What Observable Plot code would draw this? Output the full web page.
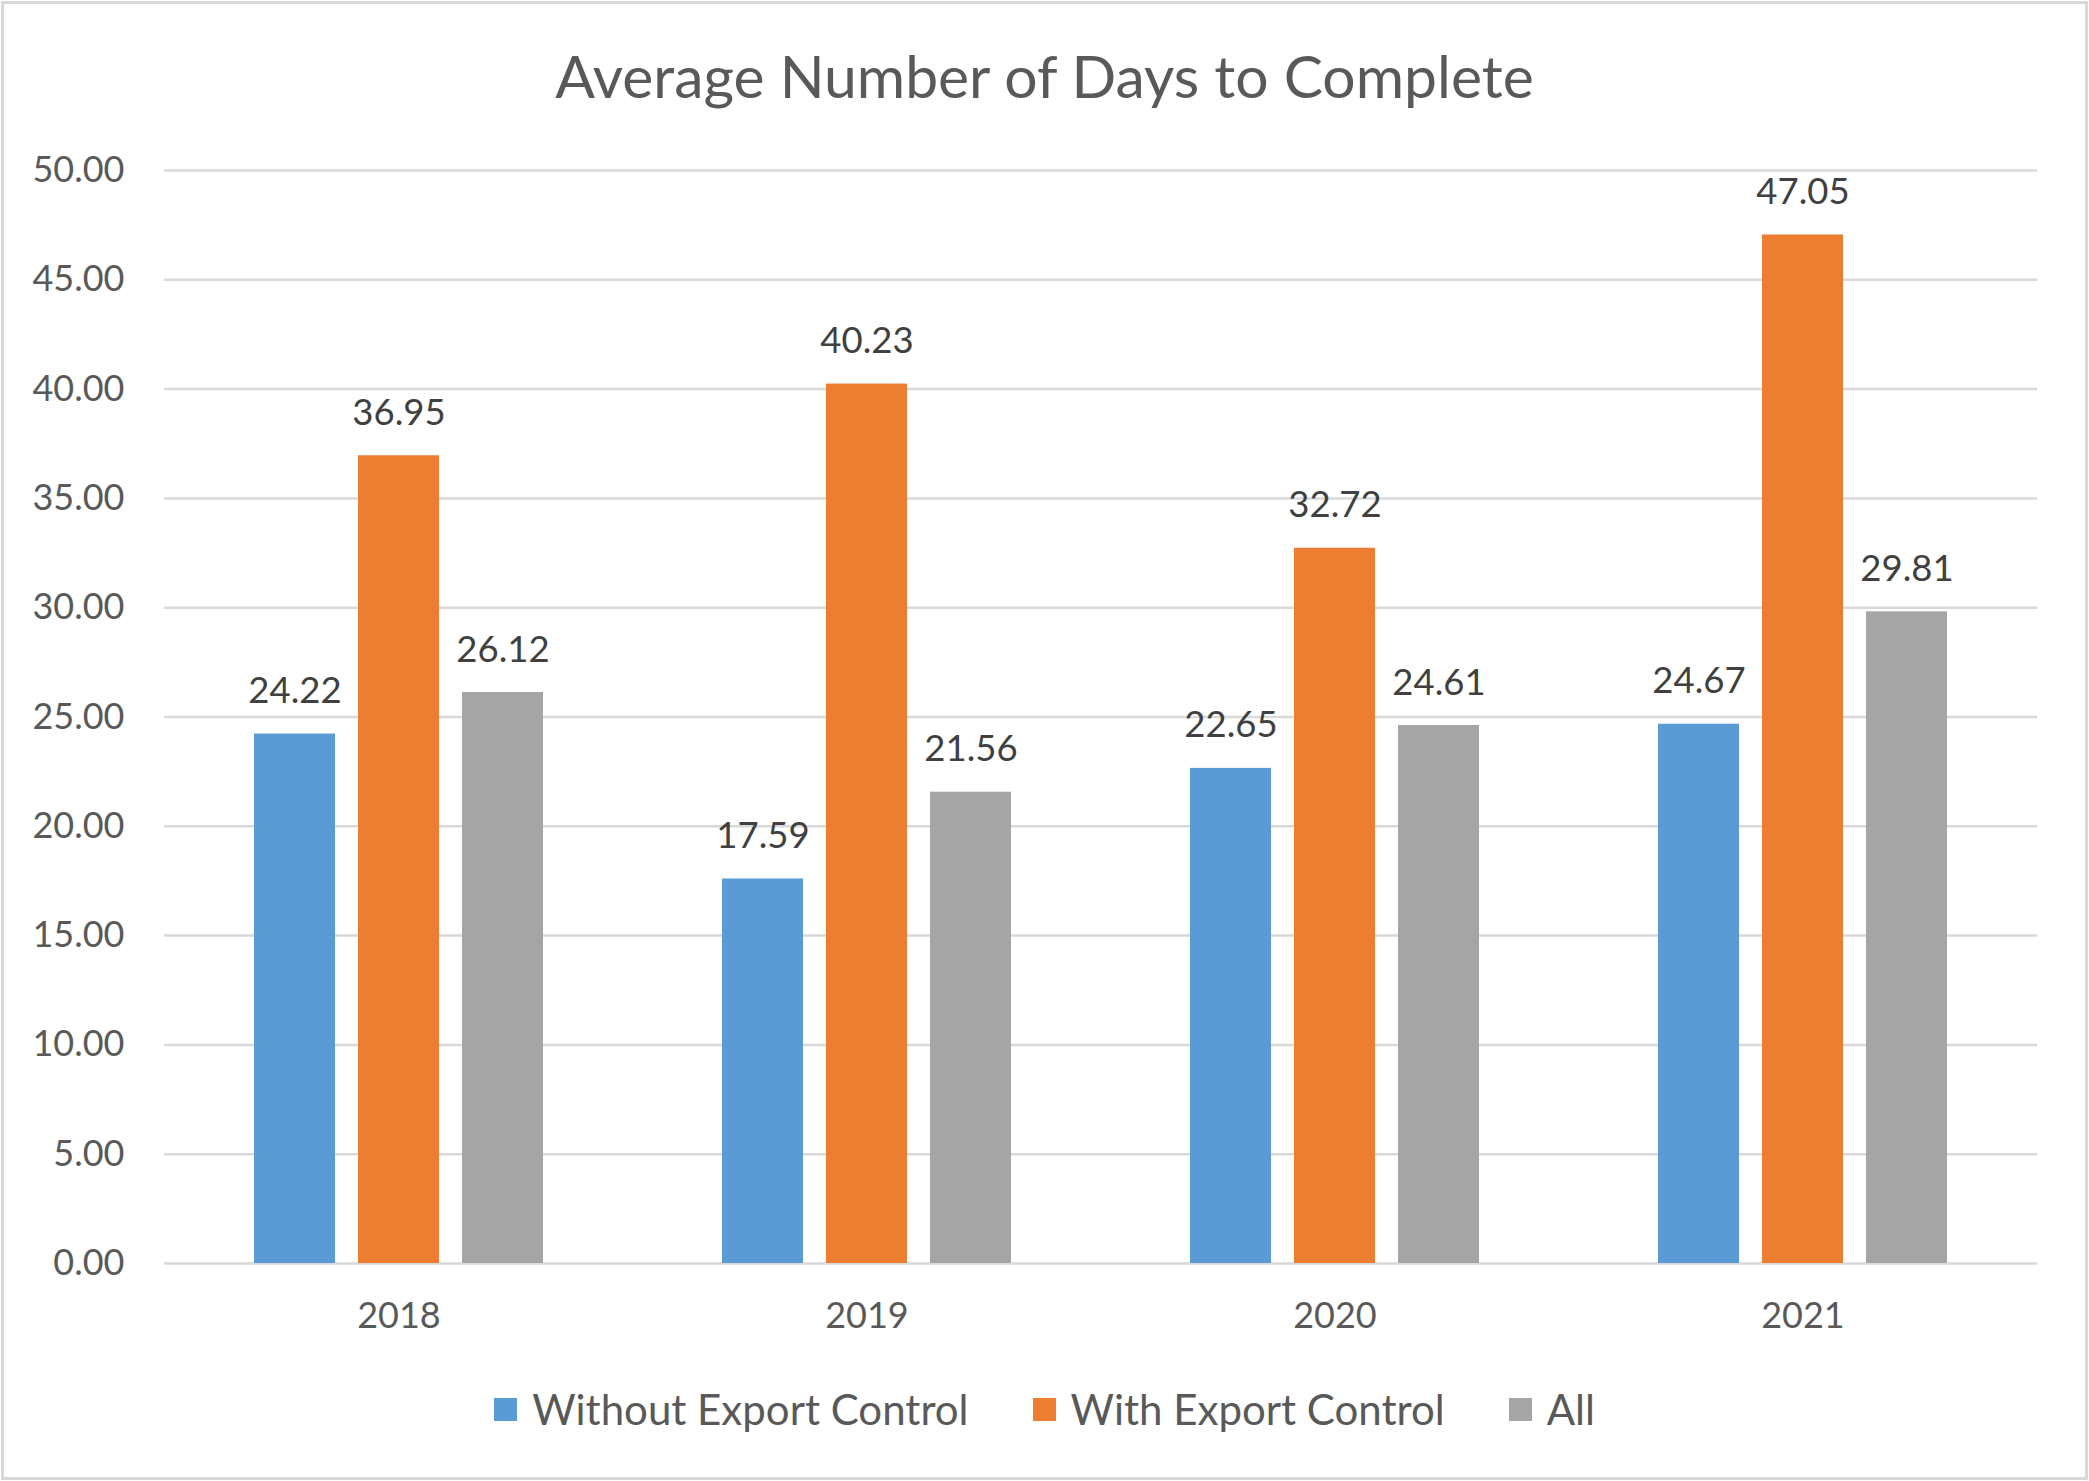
<!DOCTYPE html>
<html>
<head>
<meta charset="utf-8">
<script src="https://cdn.jsdelivr.net/npm/d3@7"></script>
<script src="https://cdn.jsdelivr.net/npm/@observablehq/plot@0.6"></script>
<style>
  html, body { margin: 0; padding: 0; background: #fff; }
  #wrap { position: relative; width: 2089px; height: 1481px; overflow: hidden; font-family: Lato, sans-serif; color: #595959; }
  #frame { position: absolute; left: 1px; top: 1px; width: 2087px; height: 1479px; box-sizing: border-box; border: 3px solid #D9D9D9; pointer-events: none; }
  #title { position: absolute; left: 0; top: 47px; width: 2089px; text-align: center; font-size: 58.8px; line-height: 1; white-space: nowrap; }
  #chart { position: absolute; left: 0; top: 0; }
  #legend { position: absolute; left: 0; width: 2089px; top: 1388px; display: flex; justify-content: center; align-items: center; font-size: 42px; line-height: 1; }
  .item { display: flex; align-items: center; margin: 0 32px; }
  .sw { width: 23px; height: 23px; margin-right: 15px; }
</style>
</head>
<body>
<div id="wrap">
  <div id="chart"></div>
  <div id="title">Average Number of Days to Complete</div>
  <div id="legend"></div>
  <div id="frame"></div>
</div>
<script>
const years = ["2018", "2019", "2020", "2021"];
const seriesNames = ["Without Export Control", "With Export Control", "All"];
const withoutExportControl = [24.22, 17.59, 22.65, 24.67];
const withExportControl = [36.95, 40.23, 32.72, 47.05];
const allValues = [26.12, 21.56, 24.61, 29.81];
const seriesColors = ["#5B9BD5", "#ED7D31", "#A5A5A5"];
const yTicks = [0, 5, 10, 15, 20, 25, 30, 35, 40, 45, 50];

const seriesValues = [withoutExportControl, withExportControl, allValues];
const rows = years.flatMap((year, i) =>
  seriesNames.map((series, j) => ({year, series, index: j, value: seriesValues[j][i]}))
);

// bar geometry within each year's band (pixels): bar width 81, gap 23
const barStep = 104, groupWidth = 289, barWidth = 81;

const seriesMarks = seriesNames.flatMap((name, j) => {
  const data = rows.filter(d => d.index === j);
  const left = j * barStep;
  const right = groupWidth - left - barWidth;
  return [
    Plot.barY(data, {x: "year", y: "value", fill: seriesColors[j], insetLeft: left, insetRight: right}),
    Plot.text(data, {x: "year", y: "value", text: d => d.value.toFixed(2), dx: (j - 1) * barStep, dy: -31, lineAnchor: "bottom", fill: "#404040", fontSize: 36.5})
  ];
});

const chart = Plot.plot({
  width: 2089,
  height: 1481,
  marginLeft: 164,
  marginRight: 52,
  marginTop: 170,
  marginBottom: 218,
  style: {fontFamily: "Lato, sans-serif", fontSize: "36px", color: "#595959", background: "transparent", overflow: "visible"},
  x: {domain: years, paddingInner: 0.3828, paddingOuter: 0.1914, label: null, tickSize: 0, tickPadding: 39},
  y: {domain: [0, 50], ticks: yTicks, tickFormat: d3.format(".2f"), tickSize: 0, tickPadding: 40, label: null},
  marks: [
    Plot.gridY(yTicks, {stroke: "#D9D9D9", strokeOpacity: 1, strokeWidth: 2.5}),
    ...seriesMarks
  ]
});
document.getElementById("chart").appendChild(chart);

const legend = document.getElementById("legend");
seriesNames.forEach((name, i) => {
  const item = document.createElement("div");
  item.className = "item";
  const sw = document.createElement("div");
  sw.className = "sw";
  sw.style.background = seriesColors[i];
  const label = document.createElement("span");
  label.textContent = name;
  item.appendChild(sw);
  item.appendChild(label);
  legend.appendChild(item);
});
</script>
</body>
</html>
